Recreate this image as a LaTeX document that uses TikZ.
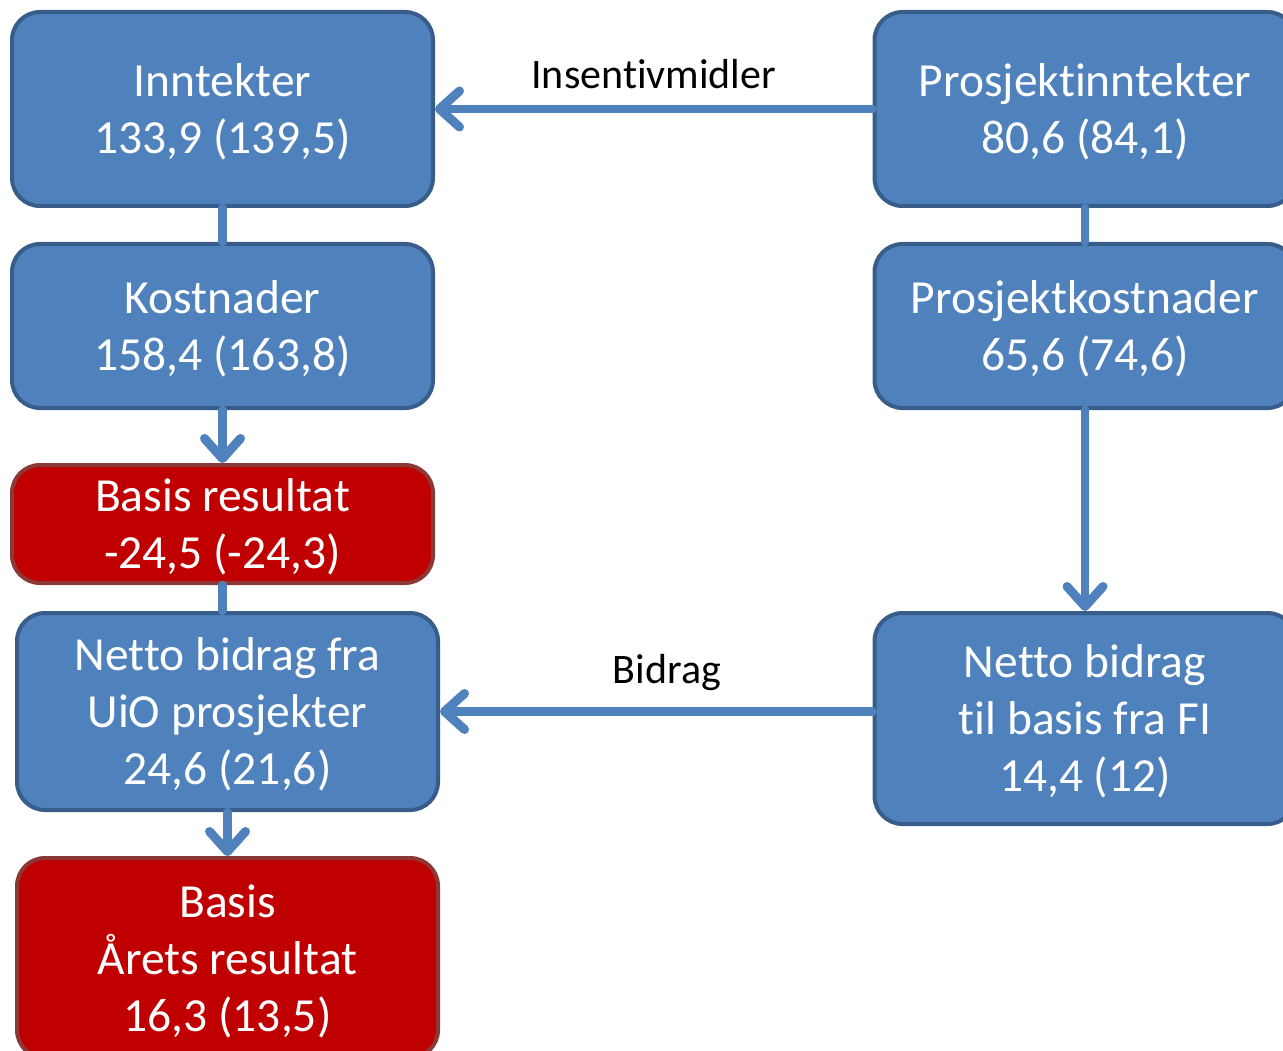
\documentclass[tikz,border=0pt]{standalone}
\usepackage{fontspec}
\setmainfont{Carlito}[Ligatures={NoCommon}]
\usetikzlibrary{arrows.meta}
\definecolor{boxblue}{HTML}{4F81BD}
\definecolor{boxedge}{HTML}{385D8A}
\definecolor{boxred}{HTML}{C00000}
\definecolor{rededge}{HTML}{8C3836}
\begin{document}
\begin{tikzpicture}[x=1pt, y=-1pt, line join=round, line cap=round, >={Straight Barb[length=20pt,width=36pt,line width=9pt,round]},
                    box/.style={draw=boxedge, fill=boxblue, line width=4pt, rounded corners=28pt, text=white, align=center, inner sep=0pt, minimum width=421pt, text depth=0pt, font=\fontsize{47.5}{57}\selectfont},
                    redbox/.style={box, draw=rededge, fill=boxred},
                    link/.style={draw=boxblue, line width=8.5pt},
                    flowlabel/.style={font=\fontsize{42}{50}\selectfont, above=13pt}]
                    \useasboundingbox (0,0) rectangle (1283,1051);
                    % venstre kolonne
                    \node[box, minimum height=194pt] (inn) at (222.5,109) {Inntekter\\133,9 (139,5)};
                    \node[box, minimum height=164pt] (kost) at (222.5,326) {Kostnader\\158,4 (163,8)};
                    \node[redbox, minimum height=118pt] (basis) at (222.5,524) {Basis resultat\\-24,5 (-24,3)};
                    \node[box, minimum height=197pt] (uio) at (227.5,711.5) {Netto bidrag fra\\UiO prosjekter\\24,6 (21,6)};
                    \node[redbox, minimum height=200pt] (aar) at (227.5,958) {Basis\\Årets resultat\\16,3 (13,5)};
                    % hoyre kolonne
                    \node[box, minimum height=194pt] (pinn) at (1085,109) {Prosjektinntekter\\80,6 (84,1)};
                    \node[box, minimum height=164pt] (pkost) at (1085,326) {Prosjektkostnader\\65,6 (74,6)};
                    \node[box, minimum height=211pt] (fi) at (1085,718.5) {Netto bidrag\\til basis fra FI\\14,4 (12)};
                    % piler
                    \foreach \a/\b in {inn/kost, pinn/pkost}
                    \draw[link] (\a.south) -- (\b.north);
                    \draw[link] (basis.south) -- (basis.south |- uio.north);
                    \foreach \a/\b in {kost/basis, uio/aar, pkost/fi}
                    \draw[link, ->] (\a.south) -- (\b.north);
                    \draw[link, ->] (pinn.west) -- (inn.east) node[flowlabel, pos=.5]{Insentivmidler};
                    \draw[link, ->] (fi.west |- uio.east) -- (uio.east) node[flowlabel, pos=.475]{Bidrag};
            \end{tikzpicture}
\end{document}
